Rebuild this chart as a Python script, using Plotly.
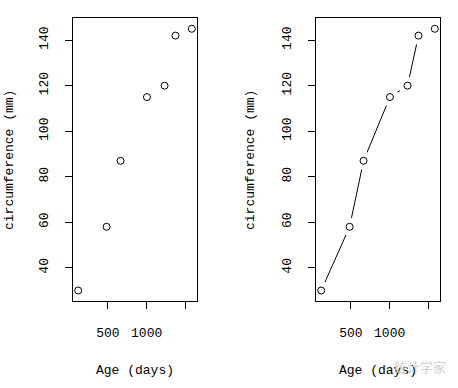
import plotly.graph_objects as go

age = [118, 484, 664, 1004, 1231, 1372, 1582]
circumference = [30, 58, 87, 115, 120, 142, 145]
x_tickvals = [500, 1000, 1500]
x_ticktext = ["500", "1000", ""]
y_tickvals = [40, 60, 80, 100, 120, 140]
y_ticktext = ["40", "60", "80", "100", "120", "140"]

W, H = 458, 388
FONT = "Liberation Mono"


def px(x):
    return x / W


def py(y):
    return 1 - y / H


fig = go.Figure()

# left: points only
fig.add_trace(go.Scatter(x=age, y=circumference, mode="markers",
                         marker=dict(symbol="circle-open", size=7, color="black",
                                     line=dict(width=1)),
                         xaxis="x", yaxis="y", showlegend=False))
# right: type "b" - line with gaps around points
fig.add_trace(go.Scatter(x=age, y=circumference, mode="lines",
                         line=dict(color="black", width=1),
                         xaxis="x2", yaxis="y2", showlegend=False))
fig.add_trace(go.Scatter(x=age, y=circumference, mode="markers",
                         marker=dict(symbol="circle", size=18.5, color="white",
                                     line=dict(width=0)),
                         xaxis="x2", yaxis="y2", showlegend=False))
fig.add_trace(go.Scatter(x=age, y=circumference, mode="markers",
                         marker=dict(symbol="circle-open", size=7, color="black",
                                     line=dict(width=1)),
                         xaxis="x2", yaxis="y2", showlegend=False))

xr = [51, 1649]
yr = [25.4, 149.6]
ydom = [py(301), py(18.3)]

common_x = dict(range=xr, tickvals=x_tickvals, ticktext=x_ticktext,
                ticks="outside", ticklen=7, tickwidth=1, tickcolor="black",
                showline=True, linecolor="black", linewidth=1, mirror=True,
                showgrid=False, zeroline=False, ticklabelstandoff=12,
                tickfont=dict(family=FONT, size=13, color="black"))
common_y = dict(range=yr, tickvals=y_tickvals, ticktext=y_ticktext,
                ticks="outside", ticklen=7, tickwidth=1, tickcolor="black",
                showline=True, linecolor="black", linewidth=1, mirror=True,
                showgrid=False, zeroline=False, tickangle=-90, ticklabelstandoff=12,
                tickfont=dict(family=FONT, size=13, color="black"), domain=ydom)

fig.update_layout(
    width=W, height=H, margin=dict(l=0, r=0, t=0, b=0),
    paper_bgcolor="white", plot_bgcolor="white",
    xaxis=dict(domain=[px(73), px(197)], anchor="y", **common_x),
    yaxis=dict(anchor="x", **common_y),
    xaxis2=dict(domain=[px(316), px(440)], anchor="y2", **common_x),
    yaxis2=dict(anchor="x2", **common_y),
)

annots = []
for cx, cy in [(135, 9), (378, 250)]:
    annots.append(dict(text="Age (days)", x=px(cx), y=py(370), xref="paper", yref="paper",
                       showarrow=False, font=dict(family=FONT, size=13, color="black"),
                       xanchor="center", yanchor="middle"))
    annots.append(dict(text="circumference (mm)", x=px(cy), y=py(160), xref="paper", yref="paper",
                       showarrow=False, textangle=-90,
                       font=dict(family=FONT, size=13, color="black"),
                       xanchor="center", yanchor="middle"))
annots.append(dict(text="统计学家", x=px(420), y=py(366), xref="paper", yref="paper",
                   showarrow=False, font=dict(family="Noto Sans CJK SC", size=13, color="#d0d0d0"),
                   xanchor="center", yanchor="middle"))
fig.update_layout(annotations=annots)

fig.write_html("out.html", config={"displayModeBar": False},
               post_script="document.body.style.margin='0';")
